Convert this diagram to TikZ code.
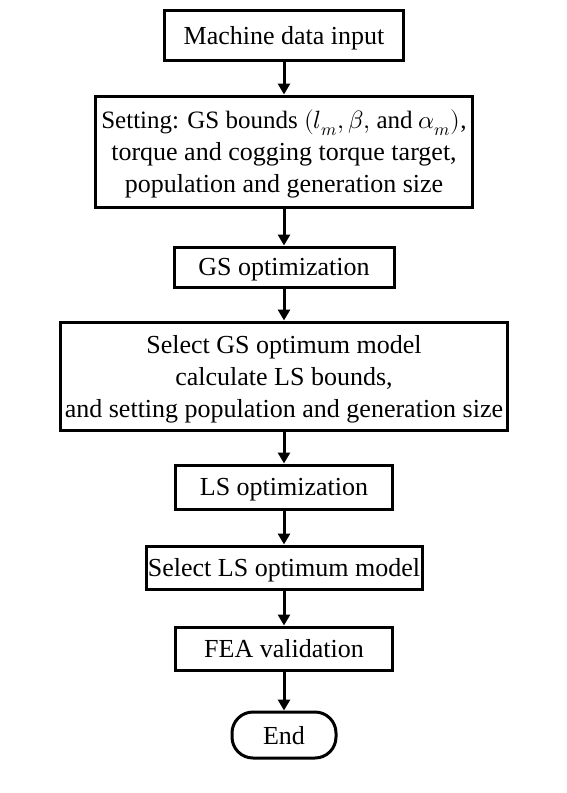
\documentclass[tikz,border=0pt]{standalone}
\usepackage{fontspec}
\usepackage{unicode-math}
\setmainfont{Liberation Serif}
\usepackage{tikz}
\usetikzlibrary{arrows.meta}

\tikzset{
  procbox/.style={draw, line width=3pt, align=center, inner sep=0.75pt,
    text depth=0pt, font=\fontsize{26}{32}\selectfont},
  endbox/.style={procbox, rounded corners=21pt},
  flow/.style={line width=3pt, -{Triangle[length=11pt,width=12pt]}}
}

\begin{document}
\begin{tikzpicture}[x=1pt,y=1pt,yscale=-1,xscale=1]
\useasboundingbox (0,0) rectangle (566,793);

% boxes
\node (input) at (284,35) [procbox, minimum width=239, minimum height=50] {Machine data input};
\node (setting) at (284,151.5) [procbox, minimum width=377, minimum height=111] {{\fontsize{25}{32}\selectfont Setting: GS bounds $(l_m, \beta,$ and $\alpha_m)$,}\\ torque and cogging torque target,\\ population and generation size};
\node (gsopt) at (284,267) [procbox, minimum width=220, minimum height=40] {GS optimization};
\node (gssel) at (284,376) [procbox, minimum width=447, minimum height=108] {Select GS optimum model\\ calculate LS bounds,\\ and setting population and generation size};
\node (lsopt) at (284,487) [procbox, minimum width=217, minimum height=44] {LS optimization};
\node (lssel) at (284,567.5) [procbox, minimum width=276, minimum height=43] {Select LS optimum model};
\node (fea) at (284,648.5) [procbox, minimum width=217, minimum height=43] {FEA validation};
\node (stop) at (284,735) [endbox, minimum width=104, minimum height=46] {End};

% arrows
\draw [flow] (input) -- (setting);
\draw [flow] (setting) -- (gsopt);
\draw [flow] (gsopt) -- (gssel);
\draw [flow] (gssel) -- (lsopt);
\draw [flow] (lsopt) -- (lssel);
\draw [flow] (lssel) -- (fea);
\draw [flow] (fea) -- (stop);

\end{tikzpicture}
\end{document}
